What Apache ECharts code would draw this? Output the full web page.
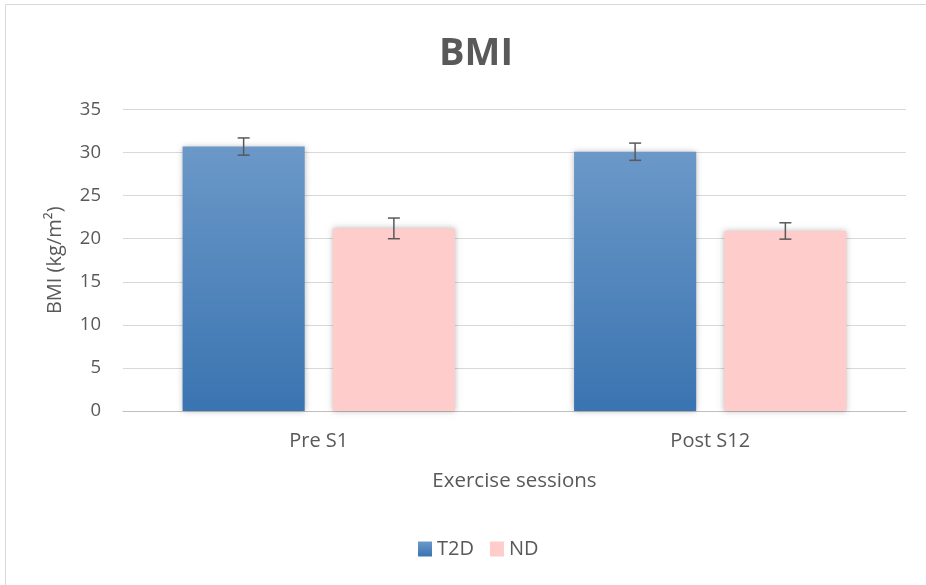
<!DOCTYPE html>
<html>
<head>
<meta charset="utf-8">
<script src="https://cdn.jsdelivr.net/npm/echarts@6/dist/echarts.min.js"></script>
<style>html,body{margin:0;padding:0;background:#fff;}#c{width:926px;height:585px;}</style>
</head>
<body>
<div id="c"></div>
<script>
const categories = ['Pre S1', 'Post S12'];
const t2dValues = [30.7, 30.1];
const t2dErrors = [1.0, 1.0];
const ndValues = [21.2, 20.9];
const ndErrors = [1.2, 0.95];
const seriesNames = ['T2D', 'ND'];

const FONT = 'Open Sans';
const TXT = '#595959';
const BAR_W = 0.312;
const GAP = 0.23;

const chart = echarts.init(document.getElementById('c'));

function errData(vals, errs) {
  return vals.map((v, i) => [i, v - errs[i], v + errs[i]]);
}
function errSeries(vals, errs, side) {
  return {
    type: 'custom',
    silent: true,
    z: 10,
    renderItem: function (params, api) {
      const band = api.size([1, 0])[0];
      const off = side * band * BAR_W * (1 + GAP) / 2;
      const lo = api.coord([api.value(0), api.value(1)]);
      const hi = api.coord([api.value(0), api.value(2)]);
      const x = lo[0] + off;
      const cap = 6;
      const style = { stroke: '#595959', lineWidth: 1.5, fill: null };
      return {
        type: 'group',
        children: [
          { type: 'line', shape: { x1: x, y1: lo[1], x2: x, y2: hi[1] }, style: style },
          { type: 'line', shape: { x1: x - cap, y1: lo[1], x2: x + cap, y2: lo[1] }, style: style },
          { type: 'line', shape: { x1: x - cap, y1: hi[1], x2: x + cap, y2: hi[1] }, style: style }
        ]
      };
    },
    encode: { x: 0, y: [1, 2] },
    data: errData(vals, errs)
  };
}

const barW = (BAR_W * 100) + '%';
const barG = (GAP * 100) + '%';

chart.setOption({
  backgroundColor: '#fff',
  animation: false,
  graphic: [{
    type: 'polyline',
    shape: { points: [[5.5, 600], [5.5, 4.5], [940, 4.5]] },
    style: { stroke: '#d9d9d9', lineWidth: 1, fill: null }
  }],
  title: {
    text: 'BMI',
    left: 471, top: 30, textAlign: 'center',
    textStyle: { fontFamily: FONT, fontSize: 38, fontWeight: 'bold', color: TXT }
  },
  legend: {
    data: seriesNames,
    left: 413, bottom: 21,
    itemWidth: 14, itemHeight: 15, itemGap: 16,
    textStyle: { fontFamily: FONT, fontSize: 20, color: TXT },
    itemStyle: { shadowBlur: 0 },
    icon: 'rect'
  },
  grid: { left: 123, right: 20, top: 109.5, bottom: 174 },
  xAxis: {
    type: 'category',
    data: categories,
    name: 'Exercise sessions',
    nameLocation: 'middle',
    nameGap: 60,
    nameTextStyle: { fontFamily: FONT, fontSize: 20.5, color: TXT },
    axisLine: { lineStyle: { color: '#bfbfbf', width: 1 } },
    axisTick: { show: false },
    axisLabel: { fontFamily: FONT, fontSize: 20, color: TXT, margin: 20 }
  },
  yAxis: {
    type: 'value',
    min: 0, max: 35, interval: 5,
    name: 'BMI (kg/m²)',
    nameLocation: 'middle',
    nameGap: 58,
    nameTextStyle: { fontFamily: FONT, fontSize: 20, color: TXT },
    axisLine: { show: false },
    axisTick: { show: false },
    axisLabel: { fontFamily: FONT, fontSize: 18.5, color: TXT, margin: 22 },
    splitLine: { lineStyle: { color: '#d9d9d9', width: 1 } }
  },
  series: [
    {
      name: 'T2D', type: 'bar', data: t2dValues,
      barWidth: barW, barGap: barG,
      itemStyle: {
        color: new echarts.graphic.LinearGradient(0, 0, 0, 1, [
          { offset: 0, color: '#6B98C8' },
          { offset: 1, color: '#3A74B1' }
        ]),
        shadowBlur: 6, shadowColor: 'rgba(0,0,0,0.28)'
      }
    },
    {
      name: 'ND', type: 'bar', data: ndValues,
      barWidth: barW, barGap: barG,
      itemStyle: { color: '#FFCCCC', shadowBlur: 6, shadowColor: 'rgba(0,0,0,0.28)' }
    },
    errSeries(t2dValues, t2dErrors, -1),
    errSeries(ndValues, ndErrors, 1)
  ]
});
</script>
</body>
</html>
